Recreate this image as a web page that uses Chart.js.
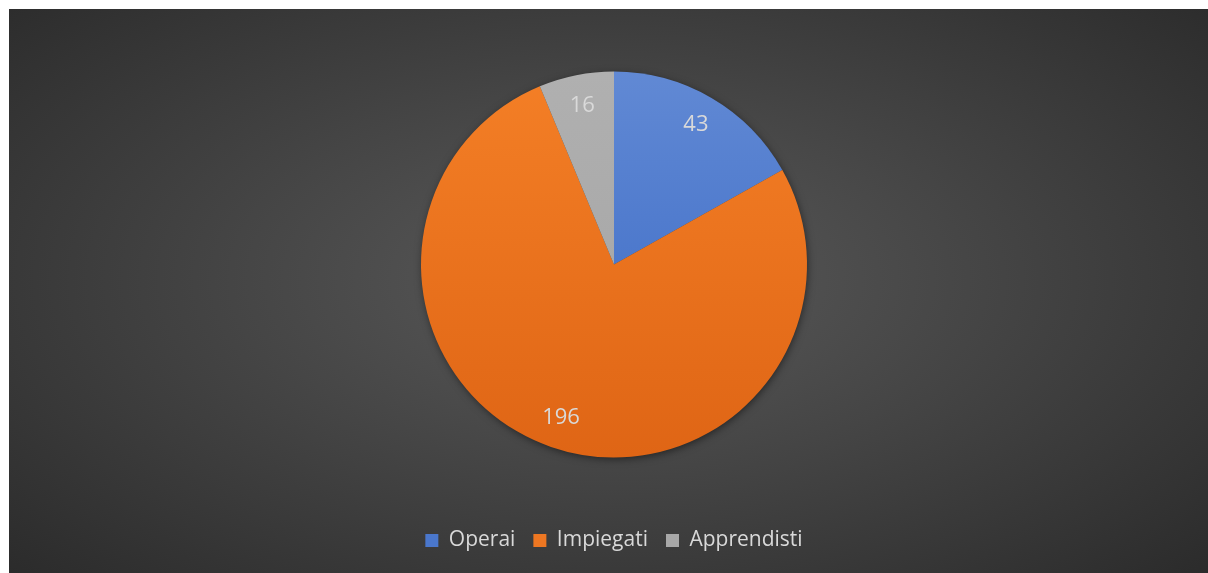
<!DOCTYPE html>
<html>
<head>
<meta charset="utf-8">
<script src="https://cdn.jsdelivr.net/npm/chart.js@4.4.1/dist/chart.umd.min.js"></script>
<style>
  html, body { margin: 0; padding: 0; background: #fff; }
  #wrap {
    position: absolute; left: 9px; top: 9px; width: 1199px; height: 564px;
    background: radial-gradient(ellipse 70% 75% at 50% 48%, #5a5a5a 0%, #454545 45%, #2b2b2b 100%);
  }
  canvas { display: block; }
</style>
</head>
<body>
<div id="wrap"><canvas id="chart" width="1199" height="564"></canvas></div>
<script>
// ── Data ────────────────────────────────────────────────────────────────
const LABELS = ['Operai', 'Impiegati', 'Apprendisti'];
const VALUES = [43, 196, 16];
const COLORS_TOP = ['#6189d4', '#f47f26', '#b0b0b0'];
const COLORS_BOTTOM = ['#3767c4', '#df6515', '#a2a2a2'];
const LEGEND_COLORS = ['#4a77cc', '#ee7722', '#a8a8a8'];

const TEXT = '#d9d9d9';
const FONT = "'Open Sans', 'Noto Sans', sans-serif";
const PIE_R = 193;

// vertical gradient per slice, spanning the pie
function sliceFill(ctx) {
  const chart = ctx.chart;
  const area = chart.chartArea;
  const i = ctx.dataIndex;
  if (!area || !isFinite(area.top) || !isFinite(area.bottom)) return LEGEND_COLORS[i];
  const cy = (area.top + area.bottom) / 2;
  const g = chart.ctx.createLinearGradient(0, cy - PIE_R, 0, cy + PIE_R);
  g.addColorStop(0, COLORS_TOP[i]);
  g.addColorStop(1, COLORS_BOTTOM[i]);
  return g;
}

// soft shadow under the pie
const pieShadow = {
  id: 'pieShadow',
  beforeDatasetsDraw(chart) {
    const arc = chart.getDatasetMeta(0).data[0];
    if (!arc || !isFinite(arc.x)) return;
    const c = chart.ctx;
    c.save();
    c.shadowColor = 'rgba(0,0,0,0.55)';
    c.shadowBlur = 8;
    c.shadowOffsetX = 1;
    c.shadowOffsetY = 2;
    c.fillStyle = '#444';
    c.beginPath();
    c.arc(arc.x, arc.y, arc.outerRadius - 1, 0, Math.PI * 2);
    c.fill();
    c.restore();
  }
};

// value labels inside the slices
const sliceLabels = {
  id: 'sliceLabels',
  afterDatasetsDraw(chart) {
    const c = chart.ctx;
    const meta = chart.getDatasetMeta(0);
    c.save();
    c.font = '22px ' + FONT;
    c.fillStyle = TEXT;
    c.textAlign = 'center';
    c.textBaseline = 'middle';
    meta.data.forEach((arc, i) => {
      const mid = (arc.startAngle + arc.endAngle) / 2;
      const rr = arc.outerRadius * 0.84;
      c.fillText(String(VALUES[i]), arc.x + Math.cos(mid) * rr, arc.y + Math.sin(mid) * rr);
    });
    c.restore();
  }
};

new Chart(document.getElementById('chart'), {
  type: 'pie',
  data: {
    labels: LABELS,
    datasets: [{
      data: VALUES,
      backgroundColor: sliceFill,
      borderWidth: 0,
      radius: PIE_R,
    }],
  },
  options: {
    responsive: false,
    animation: false,
    layout: { padding: { top: 8, bottom: 12, left: 11, right: 0 } },
    plugins: {
      tooltip: { enabled: false },
      legend: {
        position: 'bottom',
        labels: {
          color: TEXT,
          font: { family: FONT, size: 21 },
          boxWidth: 13,
          boxHeight: 13,
          padding: 18,
          generateLabels(chart) {
            return LABELS.map((l, i) => ({
              text: l,
              fillStyle: LEGEND_COLORS[i],
              strokeStyle: LEGEND_COLORS[i],
              lineWidth: 0,
              fontColor: TEXT,
              index: i,
            }));
          },
        },
      },
    },
  },
  plugins: [pieShadow, sliceLabels],
});
</script>
</body>
</html>
